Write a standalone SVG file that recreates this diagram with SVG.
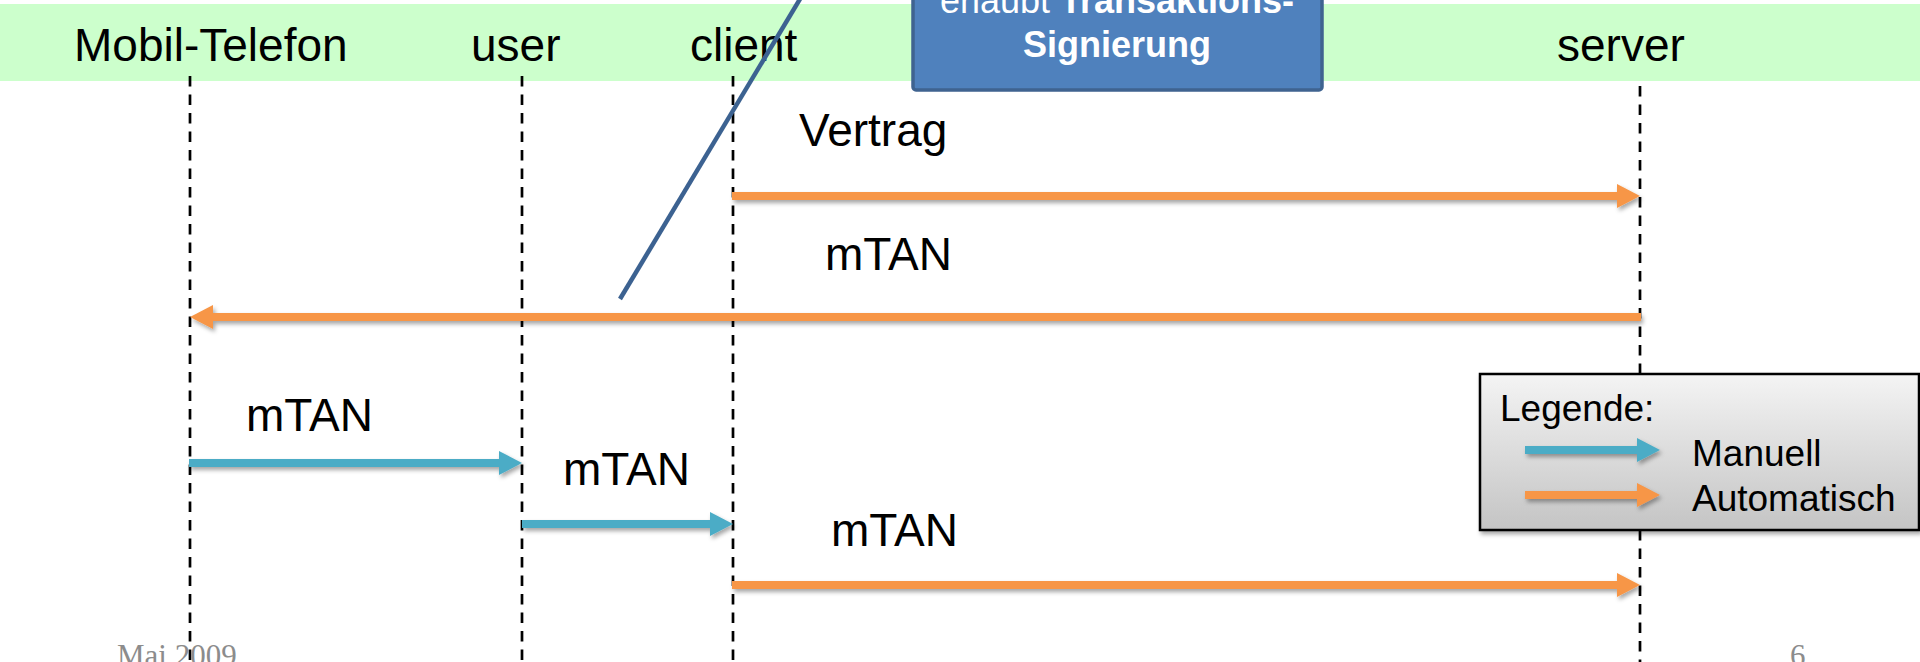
<svg xmlns="http://www.w3.org/2000/svg" width="1920" height="662" viewBox="0 0 1920 662">
<style>
.hdr{font-family:"Liberation Sans",Arial,sans-serif;font-size:46px;fill:#000}
.lbl{font-family:"Liberation Sans",Arial,sans-serif;font-size:46px;fill:#000}
.life{stroke:#000;stroke-width:2.7;stroke-dasharray:10.5 8;fill:none}
.auto{stroke:#F79646;stroke-width:8;fill:none}
.man{stroke:#4BACC6;stroke-width:8;fill:none}
.box{font-family:"Liberation Sans",Arial,sans-serif;font-size:36px;fill:#fff}
.leg{font-family:"Liberation Sans",Arial,sans-serif;font-size:37px;fill:#000}
.foot{font-family:"Liberation Serif","Times New Roman",serif;font-size:31px;fill:#8C8C8C}
</style>
<defs>
<marker id="hA" markerUnits="userSpaceOnUse" markerWidth="23" markerHeight="24" refX="0" refY="12" orient="auto" overflow="visible">
<path d="M0,0 L23,12 L0,24 z" fill="#F79646"/>
</marker>
<marker id="hM" markerUnits="userSpaceOnUse" markerWidth="23" markerHeight="24" refX="0" refY="12" orient="auto" overflow="visible">
<path d="M0,0 L23,12 L0,24 z" fill="#4BACC6"/>
</marker>
<filter id="sh" filterUnits="userSpaceOnUse" x="-50" y="-50" width="2050" height="760">
<feDropShadow dx="2" dy="3" stdDeviation="2" flood-color="#000" flood-opacity="0.35"/>
</filter>
<linearGradient id="lg" x1="0" y1="0" x2="0" y2="1">
<stop offset="0" stop-color="#F4F4F4"/>
<stop offset="1" stop-color="#C4C4C4"/>
</linearGradient>
</defs>
<rect x="0" y="4" width="1920" height="77" fill="#CCFFCC"/>
<g id="mobil"><text class="hdr" x="74" y="61">Mobil-Telefon</text><line class="life" x1="190" y1="76" x2="190" y2="662"/></g>
<g id="user"><text class="hdr" x="471" y="61">user</text><line class="life" x1="522" y1="76" x2="522" y2="662"/></g>
<g id="client"><text class="hdr" x="690" y="61">client</text><line class="life" x1="733" y1="76" x2="733" y2="662"/></g>
<g id="server"><text class="hdr" x="1557" y="61">server</text><line class="life" x1="1640" y1="86" x2="1640" y2="662"/></g>
<g id="connectors">
<line class="auto" x1="732" y1="196" x2="1617" y2="196" marker-end="url(#hA)" filter="url(#sh)"/>
<text class="lbl" x="799" y="146">Vertrag</text>
<line class="auto" x1="1641" y1="317" x2="213" y2="317" marker-end="url(#hA)" filter="url(#sh)"/>
<text class="lbl" x="825" y="270">mTAN</text>
<line class="man" x1="189" y1="463" x2="499" y2="463" marker-end="url(#hM)" filter="url(#sh)"/>
<text class="lbl" x="246" y="431">mTAN</text>
<line class="man" x1="522" y1="524" x2="710" y2="524" marker-end="url(#hM)" filter="url(#sh)"/>
<text class="lbl" x="563" y="485">mTAN</text>
<line class="auto" x1="732" y1="585" x2="1617" y2="585" marker-end="url(#hA)" filter="url(#sh)"/>
<text class="lbl" x="831" y="546">mTAN</text>
<line x1="620" y1="299" x2="803" y2="-6" stroke="#3C6291" stroke-width="4.5"/>
</g>
<g id="callout">
<rect x="913" y="-20" width="409" height="110" rx="3" fill="#4F81BD" stroke="#3F6390" stroke-width="3.5"/>
<text class="box" x="1117" y="13" text-anchor="middle">erlaubt <tspan font-weight="bold">Transaktions-</tspan></text>
<text class="box" x="1117" y="57" text-anchor="middle" font-weight="bold">Signierung</text>
</g>
<g id="legend">
<rect x="1480" y="374" width="439" height="156" fill="url(#lg)" stroke="#000" stroke-width="2.5" filter="url(#sh)"/>
<text class="leg" x="1500" y="421" font-size="36">Legende:</text>
<line class="man" x1="1525" y1="450" x2="1637" y2="450" marker-end="url(#hM)" filter="url(#sh)"/>
<text class="leg" x="1692" y="466">Manuell</text>
<line class="auto" x1="1525" y1="495" x2="1637" y2="495" marker-end="url(#hA)" filter="url(#sh)"/>
<text class="leg" x="1692" y="511">Automatisch</text>
</g>
<text class="foot" x="117" y="666">Mai 2009</text>
<text class="foot" x="1790" y="666">6</text>
</svg>
